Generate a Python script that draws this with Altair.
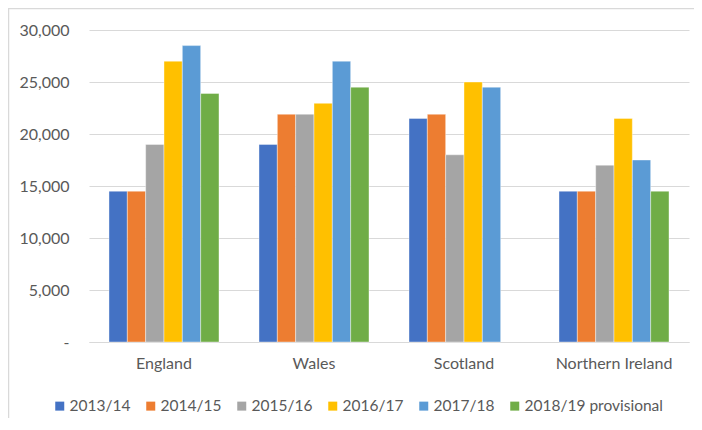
import altair as alt
import pandas as pd

regions = ["England", "Wales", "Scotland", "Northern Ireland"]
years = ["2013/14", "2014/15", "2015/16", "2016/17", "2017/18", "2018/19 provisional"]
england = [14500, 14500, 19000, 27000, 28500, 23900]
wales = [19000, 21900, 21900, 22950, 27000, 24500]
scotland = [21500, 21900, 18000, 25000, 24500, None]
northern_ireland = [14500, 14500, 17000, 21500, 17500, 14500]
colors = ["#4472C4", "#ED7D31", "#A5A5A5", "#FFC000", "#5B9BD5", "#70AD47"]
y_ticks = [0, 5000, 10000, 15000, 20000, 25000, 30000]

rows = []
for region, vals in zip(regions, [england, wales, scotland, northern_ireland]):
    for yr, v in zip(years, vals):
        if v is not None:
            rows.append({"region": region, "year": yr, "value": v})
df = pd.DataFrame(rows)

FONT = "Lato"
GREY = "#595959"

bars = alt.Chart(df).mark_bar(stroke="white", strokeWidth=0.4).encode(
    x=alt.X("region:N", sort=regions, title=None,
            scale=alt.Scale(paddingInner=0.2667, paddingOuter=0.1333),
            axis=alt.Axis(labelAngle=0, labelFont=FONT, labelFontSize=16,
                          labelColor=GREY, labelPadding=13, ticks=False,
                          domainColor="#d9d9d9", domainWidth=1.2, grid=False)),
    xOffset=alt.XOffset("year:N", sort=years,
                        scale=alt.Scale(domain=years, paddingInner=0, paddingOuter=0)),
    y=alt.Y("value:Q", title=None,
            scale=alt.Scale(domain=[0, 30000], nice=False),
            axis=alt.Axis(values=y_ticks, domain=False, ticks=False,
                          labelExpr="datum.value == 0 ? '-\u00a0\u00a0\u00a0' : format(datum.value, ',')",
                          labelFont=FONT, labelFontSize=16, labelColor=GREY,
                          labelPadding=20, gridColor="#d9d9d9", gridWidth=1.2)),
    color=alt.Color("year:N", sort=years,
                    scale=alt.Scale(domain=years, range=colors),
                    legend=alt.Legend(title=None, orient="none", legendX=-37, legendY=368,
                                      direction="horizontal", columns=6,
                                      symbolType="square", symbolSize=81,
                                      symbolStrokeWidth=0, labelFont=FONT,
                                      labelFontSize=15.5, labelColor=GREY,
                                      labelOffset=2, columnPadding=12)),
)

frame_df = pd.DataFrame({"k": [0]})
top_line = alt.Chart(frame_df).mark_rule(color="#d9d9d9", strokeWidth=1.5).encode(
    x=alt.value(-81), x2=alt.value(606), y=alt.value(-21.5))
left_line = alt.Chart(frame_df).mark_rule(color="#d9d9d9", strokeWidth=1.5).encode(
    x=alt.value(-80.5), y=alt.value(-22), y2=alt.value(392))

chart = alt.layer(bars, top_line, left_line).properties(
    width=600, height=312,
    autosize=alt.AutoSizeParams(type="none"),
    padding={"left": 81, "top": 22, "right": 5, "bottom": 76},
).configure_view(stroke=None)

chart.save("out.html", embed_options={"renderer": "svg", "actions": False})
